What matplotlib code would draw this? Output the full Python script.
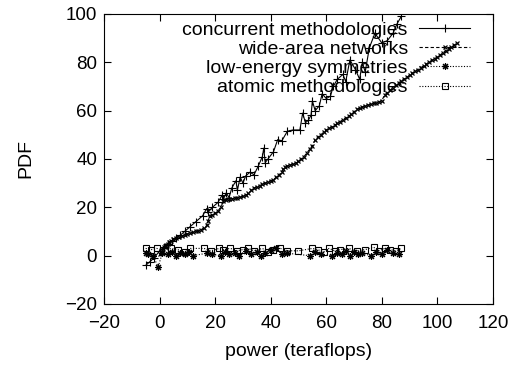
import matplotlib
matplotlib.use("Agg")
import matplotlib.pyplot as plt

plt.rcParams['font.family'] = ['Liberation Sans', 'DejaVu Sans']

# concurrent methodologies
conc_x = [-5, -3.5, -2, 0, 1.5, 3, 4.5, 6, 7.5, 9, 11, 13, 15.5, 17, 17.5, 19, 21, 22.5, 23, 24,
          25, 26, 27.5, 28, 29, 30, 31, 32.5, 34, 35.5, 37, 37.5, 38, 39, 41, 42.5, 44, 46, 48, 50.5,
          51.5, 52.5, 53.5, 54.5, 55, 56, 57.5, 58.5, 60, 61.5, 62.5, 64, 66, 67, 68.5, 70.5, 72, 73, 74, 75.5,
          77.5, 80, 82, 84, 85.5, 87]
conc_y = [-4, -2.5, -1, 2, 3.5, 5, 6, 7.5, 8.5, 10, 12, 14, 16.5, 19.5, 18, 20, 22, 25, 23.5, 26,
          24, 28, 31, 27, 32.5, 30, 33, 34.5, 33.5, 37, 41, 44.5, 38.5, 40, 43, 48, 47.5, 51.5, 52, 52,
          59, 55, 56, 58, 64, 60, 62, 67, 65, 66, 70, 73, 75, 72, 81, 77, 73, 80, 76, 86,
          92, 88, 89, 92, 96, 99]

# wide-area networks
wan_x = [0, 0.5, 1, 1.5, 2, 2.5, 3, 3.5, 4,
         5, 6, 7, 8, 9, 10, 11, 12, 13, 14, 15, 16, 17, 17.5,
         18, 19, 20, 21, 22, 23, 24, 25, 26, 27, 28, 29, 30, 31, 32, 33, 34, 35, 36, 37, 38, 39, 40,
         41, 42, 43, 44, 44.5,
         45, 46, 47, 48, 49, 50, 51, 52, 53, 54, 55, 56, 57, 58, 59, 60, 61, 62, 63, 64, 65, 66, 67,
         68, 69, 70, 71, 72, 73, 74, 75, 76, 77, 78, 79, 80, 81, 82, 83, 84, 85, 86, 87, 88, 89, 90,
         91, 92, 93, 94, 95, 96, 97, 98, 99, 100, 101, 102, 103, 104, 105, 106, 107]
wan_y = [0.5, 1.5, 2.5, 3.5, 4, 4.5, 5, 5.5, 6,
         6.8, 7.3, 7.8, 8.2, 8.6, 9, 9.3, 9.6, 10, 10.4, 10.8, 11.5, 12.5, 14.5,
         16.5, 17, 17.5, 18.5, 20, 22.5, 23, 23.3, 23.6, 23.8, 24, 24.2, 24.5, 25, 25.8, 27, 28, 28.5,
         29, 29.5, 30, 30.5, 31, 31.5, 32.5, 33.5, 34.5, 36,
         36.5, 37, 37.5, 38, 38.3, 39, 40, 41, 42.5, 44, 45.5, 48, 49, 50, 51, 52, 52.7, 53.3, 54, 54.7,
         55.5, 56.2, 57, 57.6, 58.5, 59.5, 60.5, 61, 61.5, 62, 62.3, 62.7, 63, 63.3, 63.7, 64.2, 66.5,
         67.5, 68.5, 69.5, 70.5, 71.5, 72.3, 73, 73.8, 74.7, 75.5, 76.3, 77, 77.8, 78.5, 79.3, 80, 80.8,
         81.5, 82.3, 83, 84, 84.8, 85.5, 86.3, 87, 88]

# low-energy symmetries
les_x = [-5, -4, -2.5, -0.5, 1, 3, 4.5, 6, 7.5, 9, 10.5, 12, 17, 19, 22, 23.5, 25, 27, 28.5, 31,
         33, 35, 36.5, 38, 40, 42, 44, 46, 54, 56, 58, 62, 64, 65.5, 67, 68.5, 70, 71.5, 73, 76,
         78, 80, 82, 84, 86]
les_y = [1, 0.5, 0, -4.5, 1, 0.5, 1.5, 0, 1, 0.5, 1.5, 0, 1, 0.5, 0, 1.5, 0.5, 1, 0, 2,
         0.5, 1.5, 0, 1, 2.5, 3, 0.5, 1, 0, 1.5, 0.5, 0, 1, 0.5, 2, 0, 1.5, 0.5, 1, 0,
         1.5, 0.5, 2.5, 1, 0.5]

# atomic methodologies
atm_x = [-5, -3, -1, 2, 4, 6.5, 9, 11, 16, 18.5, 21.5, 23, 25.5, 28, 30, 32, 34, 37, 39, 41,
         43.5, 46, 50, 55, 57, 59, 61, 63, 65, 68, 71, 74, 77, 79, 81, 83, 85, 87]
atm_y = [3, 2.5, 3, 2, 3, 2.5, 1.5, 3, 3, 2, 3, 2.5, 3, 2, 2.5, 3, 2, 3, 1.5, 2.5,
         3, 2, 2, 3, 2.5, 1.5, 3, 2, 2.5, 3, 2, 2.5, 3.5, 2, 3, 2.5, 2, 3]

fig = plt.figure(figsize=(5.18, 3.67), dpi=100)
ax = fig.add_axes([0.2008, 0.1717, 0.7509, 0.7902])

ax.plot(conc_x, conc_y, color='black', lw=0.8, marker='+', ms=6, mew=0.8,
        label='concurrent methodologies')
ax.plot(wan_x, wan_y, color='black', lw=0.8, ls=(0, (3, 2)), marker='x', ms=3.5, mew=0.9,
        label='wide-area networks')
ax.plot(les_x, les_y, color='black', lw=0.8, ls=(0, (1, 1.5)), marker=(8, 2, 0), ms=5, mew=0.8,
        label='low-energy symmetries')
ax.plot(atm_x, atm_y, color='black', lw=0.8, ls=(0, (1, 1.5)), marker='s', ms=4, mew=0.8,
        mfc='none', label='atomic methodologies')

ax.set_xlim(-20, 120)
ax.set_ylim(-20, 100)
ax.set_xticks(range(-20, 121, 20))
ax.set_yticks(range(-20, 101, 20))
ax.tick_params(direction='in', top=True, right=True, labelsize=13.5, length=5, pad=5)
ax.tick_params(axis='x', pad=8)
ax.set_xlabel('power (teraflops)', fontsize=14, labelpad=8)
ax.set_ylabel('PDF', fontsize=14, labelpad=22)

ax.legend(loc='upper right', bbox_to_anchor=(0.941, 0.975), frameon=False, markerfirst=False,
          fontsize=14, handlelength=2.6, handletextpad=0.6, labelspacing=0.08,
          borderaxespad=0.0, borderpad=0.0)

fig.savefig('out.png', dpi=100)
